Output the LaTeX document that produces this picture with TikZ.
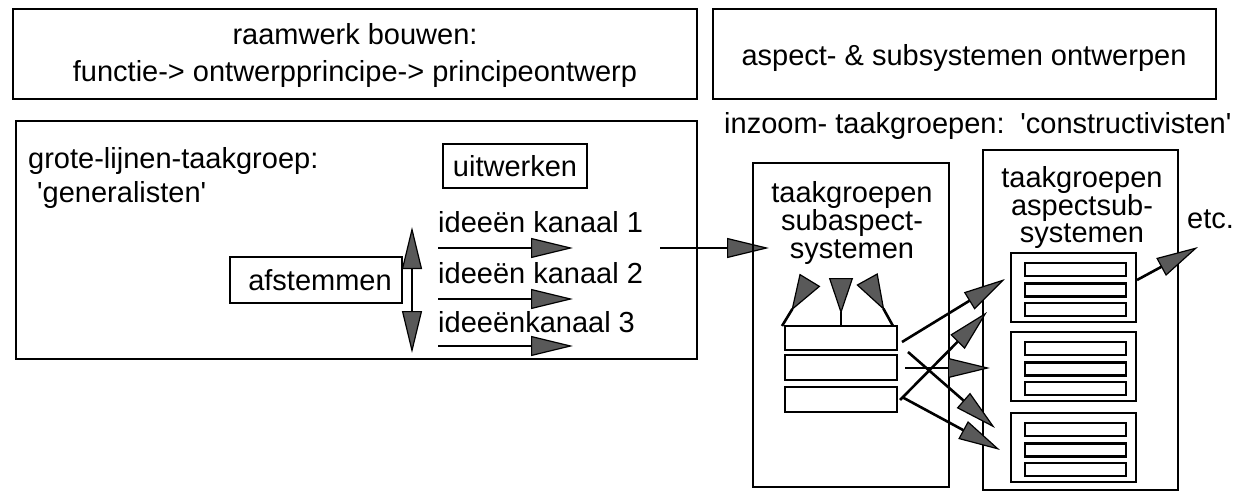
\documentclass[tikz,border=0pt]{standalone}
\usepackage{fontspec}
\newfontfamily\lsans{Liberation Sans}
\usetikzlibrary{arrows.meta}
\begin{document}
\begin{tikzpicture}[x=1pt,y=-1pt,
  txt/.style={font=\lsans\fontsize{29}{28}\selectfont, inner sep=0pt},
  frame/.style={draw, line width=2.8pt, inner sep=0pt},
  row/.style={draw, line width=2.6pt, minimum width=101pt, minimum height=13pt, inner sep=0pt},
  arr/.style={line width=2.6pt, -{Triangle[length=42pt,width=20pt,fill=black!65,line width=1.2pt]}},
  dbl/.style={line width=2.6pt, {Triangle[length=42pt,width=20pt,fill=black!65,line width=1.2pt]}-{Triangle[length=42pt,width=20pt,fill=black!65,line width=1.2pt]}},
  wedge/.style={line width=2.6pt, -{Triangle[reversed,length=36pt,width=24pt,fill=black!65,line width=1.2pt]}},
]
\useasboundingbox (0,0) rectangle (1240,492);

% top boxes
\node[frame, minimum width=684pt, minimum height=90pt] (b1) at (355,54) {};
\node[txt, anchor=base] (t1a) at (355,45) {raamwerk bouwen:};
\node[txt, anchor=base] (t1b) at (355,82) {functie-> ontwerpprincipe-> principeontwerp};
\node[frame, minimum width=503pt, minimum height=90pt] (b2) at (964.5,54) {};
\node[txt, anchor=base] (t2) at (964,66) {aspect- \& subsystemen ontwerpen};

% left big box
\node[frame, minimum width=681pt, minimum height=238pt] (b3) at (356.5,240) {};
\node[txt, anchor=base west] (t3a) at (28,168) {grote-lijnen-taakgroep:};
\node[txt, anchor=base west] (t3b) at (37,202) {'generalisten'};
\node[frame, txt, draw, line width=2.8pt, minimum width=144pt, minimum height=44pt] (uit) at (515,166) {uitwerken};
\node[frame, txt, draw, line width=2.8pt, minimum width=172pt, minimum height=46pt] (afs) at (316,280) {\hspace{8pt}afstemmen};
\node[txt, anchor=base west] (k1) at (438,233) {ideeën kanaal 1};
\node[txt, anchor=base west] (k2) at (438,283) {ideeën kanaal 2};
\node[txt, anchor=base west] (k3) at (438,332) {ideeënkanaal 3};
\coordinate (k1a) at (438,248); \coordinate (k1b) at (573,248);
\coordinate (k2a) at (438,299); \coordinate (k2b) at (573,299);
\coordinate (k3a) at (438,346); \coordinate (k3b) at (573,346);
\draw[arr] (k1a) -- (k1b);
\draw[arr] (k2a) -- (k2b);
\draw[arr] (k3a) -- (k3b);
\coordinate (vt) at (412,227); \coordinate (vb) at (412,353);
\draw[dbl] (vt) -- (vb);
\coordinate (ga) at (660,248); \coordinate (gb) at (769,248);
\draw[arr] (ga) -- (gb);

% heading right
\node[txt, anchor=base west] (inz) at (724,134) {inzoom- taakgroepen:\hspace{5pt} 'constructivisten'};

% box 4
\node[frame, minimum width=196pt, minimum height=324pt] (b4) at (851,325) {};
\node[txt, anchor=base] (t4a) at (852,202) {taakgroepen};
\node[txt, anchor=base] (t4b) at (852,230) {subaspect-};
\node[txt, anchor=base] (t4c) at (852,258) {systemen};
\node[frame, minimum width=112pt, minimum height=24pt] (r1) at (841,338) {};
\node[frame, minimum width=112pt, minimum height=25pt] (r2) at (841,367.5) {};
\node[frame, minimum width=112pt, minimum height=25pt] (r3) at (841,399.5) {};
\coordinate (w1s) at (782,326); \coordinate (w1e) at (810,280);
\coordinate (w2e) at (841,278);
\coordinate (w3s) at (893,326); \coordinate (w3e) at (867,279);
\draw[wedge] (w1s) -- (w1e);
\draw[wedge] (r1.north) -- (w2e);
\draw[wedge] (w3s) -- (w3e);

% box 5
\node[frame, minimum width=195pt, minimum height=340pt] (b5) at (1080.5,320) {};
\node[txt, anchor=base] (t5a) at (1082,188) {taakgroepen};
\node[txt, anchor=base] (t5b) at (1082,215) {aspectsub-};
\node[txt, anchor=base] (t5c) at (1082,242) {systemen};
\node[txt, anchor=base west] (etc) at (1187,228) {etc.};
\foreach \n/\T in {s1/253, s2/332, s3/413} {
  \node[frame, minimum width=125pt, minimum height=69pt] (\n) at (1073.5,\T+34.5) {};
  \node[row] (\n a) at (1075.5,\T+16.5) {};
  \node[row] (\n b) at (1075.5,\T+37) {};
  \node[row] (\n c) at (1075.5,\T+56.5) {};
}

% arrows between box 4 and box 5
\coordinate (aA) at (902,342); \coordinate (eA) at (1005,279);
\coordinate (aB) at (900,400); \coordinate (eB) at (987,312);
\coordinate (aC) at (905,368); \coordinate (eC) at (990,368);
\coordinate (aD) at (908,352); \coordinate (eD) at (995,428);
\coordinate (aE) at (902,397); \coordinate (eE) at (1000,450);
\draw[arr] (aA) -- (eA);
\draw[arr] (aB) -- (eB);
\draw[arr] (aC) -- (eC);
\draw[arr] (aD) -- (eD);
\draw[arr] (aE) -- (eE);
\coordinate (aF) at (1137,280); \coordinate (eF) at (1198,247);
\draw[arr] (aF) -- (eF);
\end{tikzpicture}
\end{document}
